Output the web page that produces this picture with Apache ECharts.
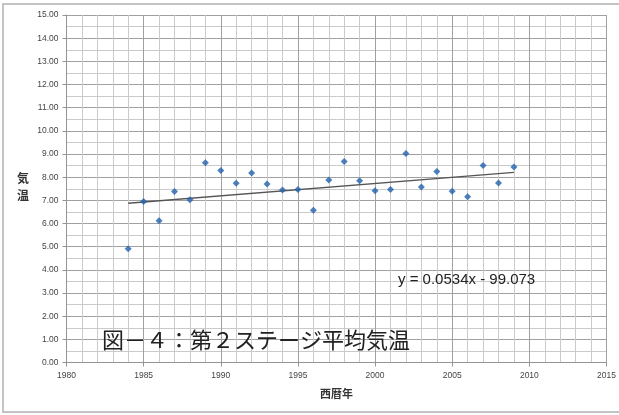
<!DOCTYPE html>
<html>
<head>
<meta charset="utf-8">
<title>第２ステージ平均気温</title>
<script src="https://cdn.jsdelivr.net/npm/echarts@6/dist/echarts.min.js"></script>
<style>
  html, body { margin: 0; padding: 0; background: #fff; }
  #chart { width: 619px; height: 415px; }
</style>
</head>
<body>
<div id="chart"></div>
<script>
// Annual mean temperature, stage 2 (years and °C)
var years = [1984, 1985, 1986, 1987, 1988, 1989, 1990, 1991, 1992, 1993, 1994, 1995, 1996,
             1997, 1998, 1999, 2000, 2001, 2002, 2003, 2004, 2005, 2006, 2007, 2008, 2009];
var temps = [4.91, 6.95, 6.12, 7.38, 7.03, 8.62, 8.29, 7.74, 8.18, 7.70, 7.45, 7.47, 6.57,
             7.88, 8.68, 7.84, 7.41, 7.47, 9.02, 7.58, 8.24, 7.39, 7.16, 8.50, 7.75, 8.44];

// Linear trend as printed on the chart: y = slope * x + intercept
var slope = 0.0534;
var intercept = -99.073;
var trendYears = [years[0], years[years.length - 1]];

var yTicks = ['0.00', '1.00', '2.00', '3.00', '4.00', '5.00', '6.00', '7.00',
              '8.00', '9.00', '10.00', '11.00', '12.00', '13.00', '14.00', '15.00'];

var chart = echarts.init(document.getElementById('chart'), null, { renderer: 'canvas' });

var points = years.map(function (y, i) { return [y, temps[i]]; });
var trend = trendYears.map(function (y) { return [y, slope * y + intercept]; });

var axisFont = { fontFamily: 'Liberation Sans, Arial, sans-serif', fontSize: 8.5, color: '#444444' };

chart.setOption({
  animation: false,
  backgroundColor: '#ffffff',
  grid: { left: 66.5, right: 12.5, top: 15, bottom: 52.5 },
  xAxis: {
    type: 'value',
    min: 1980, max: 2015, interval: 5,
    name: '西暦年',
    nameLocation: 'middle',
    nameGap: 26,
    nameTextStyle: { fontFamily: 'Noto Sans CJK JP', fontSize: 11, fontWeight: 'bold', color: '#333' },
    axisLine: { show: true, lineStyle: { color: '#949494', width: 1 } },
    axisTick: { show: true, length: 4, lineStyle: { color: '#949494' } },
    axisLabel: Object.assign({ margin: 9, formatter: function (v) { return String(v); } }, axisFont),
    splitLine: { show: true, lineStyle: { color: '#a0a0a0', width: 1 } },
    minorTick: { show: false, splitNumber: 5 },
    minorSplitLine: { show: true, lineStyle: { color: '#cacaca', width: 1 } }
  },
  yAxis: {
    type: 'value',
    min: 0, max: 15, interval: 1,
    axisLine: { show: true, lineStyle: { color: '#949494', width: 1 } },
    axisTick: { show: true, length: 4, lineStyle: { color: '#949494' } },
    axisLabel: Object.assign({ margin: 8, formatter: function (v) { return yTicks[Math.round(v)]; } }, axisFont),
    splitLine: { show: true, lineStyle: { color: '#a0a0a0', width: 1 } },
    minorTick: { show: false, splitNumber: 2 },
    minorSplitLine: { show: true, lineStyle: { color: '#cacaca', width: 1 } }
  },
  series: [
    {
      type: 'line',
      data: trend,
      symbol: 'none',
      lineStyle: { color: '#555555', width: 1.4 },
      z: 2
    },
    {
      type: 'scatter',
      data: points,
      symbol: 'diamond',
      symbolSize: 7,
      itemStyle: { color: '#2160ad' },
      z: 3
    }
  ],
  graphic: [
    {
      type: 'rect',
      shape: { x: 3, y: 4, width: 620, height: 408 },
      style: { fill: 'none', stroke: '#c4c4c4', lineWidth: 2 },
      silent: true, z: 10
    },
    {
      type: 'text',
      left: 17, top: 170,
      style: {
        text: '気\n温',
        font: 'bold 12px "Noto Sans CJK JP"',
        fill: '#333',
        lineHeight: 17
      }
    },
    {
      type: 'text',
      left: 398, top: 272,
      style: {
        text: 'y = 0.0534x - 99.073',
        font: '15px "Liberation Sans", Arial, sans-serif',
        fill: '#222'
      },
      z: 5
    },
    {
      type: 'text',
      left: 102, top: 329,
      style: {
        text: '図－４：第２ステージ平均気温',
        font: '22px "Noto Sans CJK JP"',
        fill: '#222'
      },
      z: 5
    }
  ]
});
</script>
</body>
</html>
